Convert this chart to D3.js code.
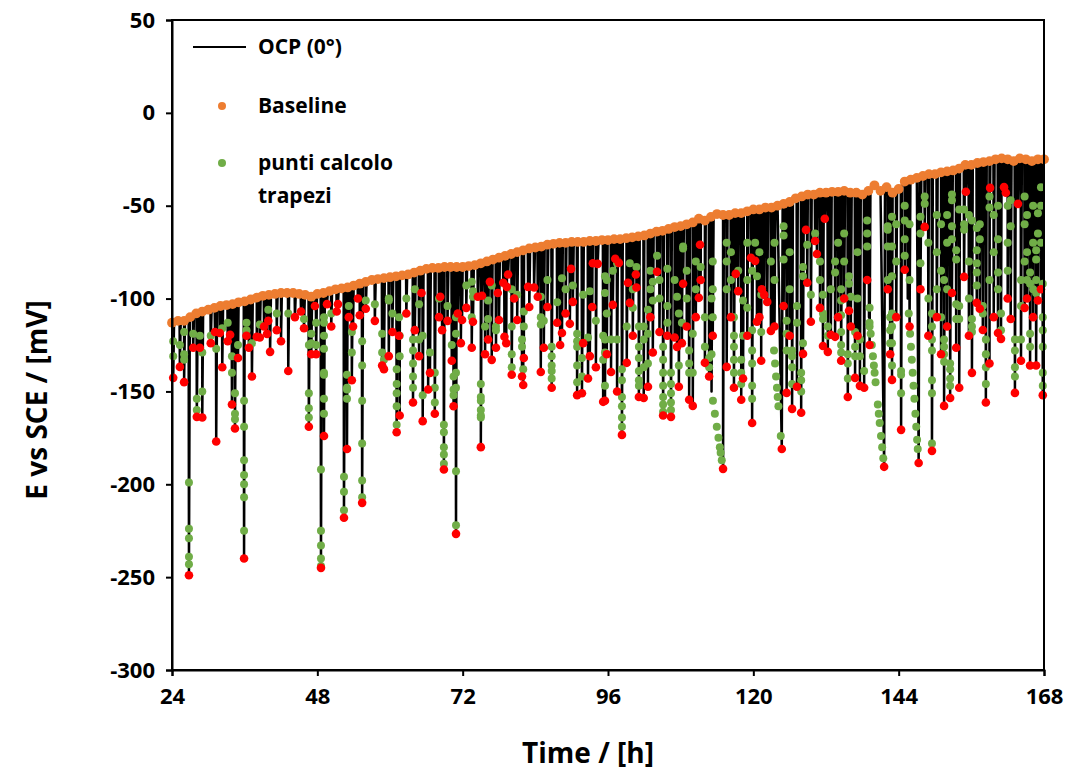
<!DOCTYPE html>
<html><head><meta charset="utf-8">
<script src="https://cdn.jsdelivr.net/npm/d3@7"></script>
<style>
html,body{margin:0;padding:0;background:#fff;}
text{font-family:"Open Sans",sans-serif;font-weight:bold;fill:#000;}
</style></head>
<body><svg id="c" width="1072" height="776"></svg>
<script>
// x tick values (hours) and y tick values (mV)
const xTicks = [24, 48, 72, 96, 120, 144, 168];
const yTicks = [50, 0, -50, -100, -150, -200, -250, -300];

// Baseline (orange), hourly from 24 h to 168 h, mV
const baseTime = d3.range(24, 169, 1);
const baseValue = [
 -113,-112,-112,-110,-108,-107,-106,-105,-104,-103.5,-103,-102,-101.5,-100.5,-99.5,-98.5,
 -98,-97.5,-97,-97,-97,-97.5,-98,-99,-97.5,-97,-96,-95,-94.5,-94,-93,-92,
 -91,-90,-89.5,-89,-88.5,-88,-87.5,-87,-86,-85,-84,-83.5,-83.5,-83,-83,-83,
 -83,-82.5,-82,-81,-80,-79,-78,-77,-76,-75,-74,-73,-72.5,-72,-71,-70.5,
 -70,-70,-69.5,-69.5,-69.5,-69,-69,-68.5,-68.5,-68,-68,-67.5,-67,-66.5,-66,-65,
 -64,-63.5,-62.5,-61.5,-61,-60,-59,-57,-58,-56,-54.5,-55,-55,-54,-54,-53,
 -52,-52,-51,-51,-50,-49,-48,-46,-45,-44,-44,-43,-43,-42.5,-42.5,-42,
 -43,-43,-44,-42,-39,-42,-40,-43,-41,-37,-36,-35,-34,-33,-33,-32,
 -31.5,-31,-30,-28,-28,-27,-26.5,-26,-25,-24.5,-25,-26,-24.5,-25,-26,-25,-25
];

// OCP transients: [time h, minimum mV (red), [green points mV], slow-descent hours, knee mV]
const spikesDay1 = [
 [24.2,-142.7,[-123,-131]],[25.3,-136.8,[-125]],[26.0,-145,[-118,-130,-133]],
 [26.8,-249,[-199,-224,-229,-239,-243]],[27.5,-126.5,[-119]],[28.1,-163.7,[-154,-160]],
 [28.6,-126.5,[-120]],[29.0,-164,[-129,-150]],[30.4,-124,[-120]],[31.1,-118,[]],
 [31.3,-177,[-127]],[31.9,-118.5,[]],[32.3,-137,[-116]],[33.2,-123,[-113]],
 [33.6,-119.5,[]],[33.9,-157,[-131,-140]],[34.4,-170,[-151,-162,-165]],[34.9,-132,[-125]],
 [35.9,-240,[-155,-169,-187,-195,-200,-207,-225]],[36.3,-120,[-113,-117]],[36.7,-126.5,[]],
 [37.2,-142,[-124]],[38.0,-120.6,[]],[38.5,-121,[-114]],[39.2,-115,[]],[39.7,-119,[]],
 [39.9,-112,[-106]],[40.2,-128.7,[]],[41.3,-117,[-108]],[42.0,-123,[]],[43.2,-139,[-108]],
 [44.3,-110,[]],[45.3,-107,[]],[45.8,-116,[-111]],[46.6,-169,[-125,-151,-159,-164]],
 [47.0,-130,[-119,-124]],[47.6,-104,[]],[47.8,-130,[-113,-125]]
];
const spikesDay2 = [
 [48.6,-245,[-192,-225,-233,-240,-244]],[49.1,-174,[-110,-113,-120,-127,-140,-141,-154,-162]],
 [49.6,-103,[]],[50.3,-115,[-108]],[51.2,-107,[]],[51.4,-103,[]],[52.4,-218,[-196,-204,-214]],
 [52.9,-181,[-141,-148,-149,-154]],[53.2,-110,[-104]],[53.7,-144,[-118,-129]],[53.9,-115,[]],
 [54.7,-100,[]],[55.0,-109,[]],[55.4,-210,[-123,-136,-155,-178,-198,-207]],[56.0,-105.5,[-101]],
 [57.5,-112,[-103]],[58.7,-136,[-119,-129]],[59.0,-138,[-133]],[59.8,-131,[-100,-101]],
 [60.4,-118,[-108]],[61.1,-172,[-138,-146,-151,-158,-168]],[61.5,-120,[-110]],
 [61.6,-163,[-120,-131]],[62.7,-108,[-100]],[63.8,-156,[-122,-128,-135,-142,-148]],
 [64.1,-117,[-95]],[64.8,-131,[-103,-122]],[65.2,-97,[]],[65.4,-166,[-120,-152]],
 [66.3,-149,[]],[66.6,-140,[-129]],[67.4,-162,[-140,-148,-156]],[68.1,-110,[-100]],
 [68.3,-99,[]],[68.6,-117,[]],[68.9,-192,[-168,-172,-180,-184,-189]],[69.5,-112,[-104]],
 [70.2,-133.5,[-125]],[70.5,-158,[-142,-149,-152]],[70.9,-226.7,[-110,-119,-140,-148,-193,-222]],
 [71.2,-108,[]],[71.7,-124,[]],[71.9,-111.5,[]]
];
const spikesDay3 = [
 [72.6,-105,[-93]],[73.5,-126.5,[-91,-110]],[73.7,-112.5,[-96,-99]],[74.5,-99,[]],
 [75.0,-180,[-146,-153,-155,-160,-163,-164]],[75.2,-98.5,[]],[75.7,-130,[-115]],
 [76.2,-122,[-101,-111]],[76.5,-91,[]],[76.8,-133,[-93]],[77.5,-126.5,[-115,-117]],
 [77.8,-97,[]],[78.0,-111.5,[]],[78.7,-91.5,[]],[78.9,-120.6,[]],[79.2,-124,[]],
 [79.3,-93.7,[]],[79.5,-87,[]],[80.1,-141,[-95,-115,-130,-137]],[80.5,-100,[]],
 [81.0,-111.5,[-98]],[81.8,-142,[-122,-126]],[82.0,-146.5,[-138]],[82.1,-132,[-107,-115]],
 [82.8,-93.7,[]],[83.0,-104.5,[]],[83.8,-94,[]],[84.4,-99,[]],[84.9,-139.5,[-99,-110,-114]],
 [85.4,-126.5,[-112]],[86.0,-104.5,[-90]],[86.7,-148,[-126,-131,-136,-139,-143]],
 [87.6,-113,[-102]],[88.1,-125,[]],[88.4,-118.5,[-89]],[89.0,-108,[-95]],[89.7,-113.6,[]],
 [89.9,-84,[]],[90.2,-101.8,[-93]],[90.9,-152,[-119,-123,-126,-136,-145]],
 [91.7,-151,[-132,-142]],[91.9,-124,[-98]],[92.7,-143,[-121]],[93.0,-131,[-96]],
 [93.4,-104.5,[]],[93.5,-81,[]],[94.0,-137,[-112]],[94.3,-81.3,[]],[95.2,-155.6,[-120,-133]],
 [95.5,-155,[-88,-97,-122,-129,-147]],[95.8,-130,[-90,-108]]
];
const spikesDay4 = [
 [96.5,-139.5,[-122]],[96.8,-103.4,[-85]],[97.2,-78.6,[]],[97.5,-150,[-81,-122]],
 [97.8,-80.8,[]],[98.3,-173.4,[-138,-144,-153,-158,-164,-169]],[99.1,-134.6,[-115]],
 [99.3,-91.5,[]],[99.6,-102.3,[-81]],[100.1,-120,[-95,-105]],[100.6,-87,[]],[100.7,-94,[-83]],
 [101.1,-153,[-115,-126,-132,-139,-144,-147]],[101.9,-153.5,[-115,-122,-137]],
 [102.6,-147.5,[-106,-119,-135]],[103.0,-110,[-85,-95]],[103.4,-129,[-91,-101]],
 [104.1,-85.6,[-77]],[104.5,-118,[-90,-100]],[105.1,-163,[-126,-133,-140,-147,-153,-157,-161]],
 [105.8,-120,[-84,-104,-113]],[106.4,-163.7,[-140,-146,-151,-156,-160]],[107.0,-121,[-90]],
 [107.4,-126,[-99]],[107.7,-147.5,[-108,-136]],[108.2,-124,[-113]],[108.4,-92,[-72,-73]],
 [109.0,-115,[-85,-100]],[109.4,-154.5,[-128,-135,-140]],[110.0,-157.8,[-119,-140]],
 [110.5,-110,[-80,-95]],[111.0,-99.6,[]],[111.2,-71,[]],[111.3,-90,[-83]],
 [112.0,-134.6,[-110,-126]],[112.7,-142,[-132,-137]],[113.3,-120,[-80,-95,-110]],
 [115.0,-191.7,[-100,-130,-155,-162,-169,-175,-180,-183,-187],1.9,-150],
 [115.6,-136.8,[-70,-80,-95]],[116.3,-110,[-75,-90]],[116.8,-148,[-110,-120,-126,-133,-140]],
 [117.1,-86.7,[]],[117.5,-96,[-85]],[118.0,-154.5,[-133,-140,-146]],[118.3,-143,[-101,-120]],
 [119.0,-120,[-70,-90,-105]],[119.6,-78,[]],[119.8,-167,[-85,-117,-128,-135,-147,-154]]
];
const spikesDay5 = [
 [120.3,-79.7,[-70]],[120.6,-112.5,[-88]],[121.0,-110,[-75]],[121.3,-133.5,[-98,-118]],
 [121.4,-95,[]],[121.8,-98,[]],[122.3,-101.8,[]],[122.9,-117.4,[-80]],[123.5,-115,[-70,-90]],
 [124.7,-181,[-128,-135,-142,-148,-153,-158,-174],1.6,-115],[125.0,-104,[-61,-66,-79]],
 [125.5,-150.8,[-112,-119,-128]],[126.0,-120,[-75,-95]],[126.4,-159.4,[-128,-131,-137,-146]],
 [127.2,-147.5,[-104,-113]],[127.9,-161.5,[-140,-144,-150]],[128.2,-129.8,[-83,-88,-124]],
 [128.7,-63,[]],[128.9,-91.5,[-71]],[129.5,-112.5,[-98]],[130.2,-69,[-65]],[130.5,-76,[]],
 [131.0,-105,[-80,-90]],[131.5,-125.5,[-98,-108,-111]],[131.8,-57,[]],[132.3,-128.7,[-115,-120]],
 [132.8,-119.5,[-95]],[133.5,-120.6,[-80,-86]],[134.0,-110,[-70]],
 [134.5,-133.5,[-95,-101,-109,-118,-125,-129]],[135.0,-100,[-65,-80]],[135.6,-153,[-130,-135,-143]],
 [135.8,-106.6,[-88,-92]],[136.1,-115,[-99]],[136.8,-142.7,[-118,-126,-131]],
 [137.2,-120,[-75,-100]],[137.6,-147,[-122,-131]],[138.3,-148,[-139]],[138.8,-90,[-58,-65,-72]],
 [139.2,-125,[-105,-115]],
 [141.6,-190.6,[-113,-119,-125,-131,-136,-140,-145,-157,-162,-167,-174,-180,-186],2.5,-110],
 [142.2,-95,[-61,-63,-72,-90]],[142.6,-130,[-110,-117,-124]],
 [142.9,-143.8,[-56,-72,-88,-108,-115,-124,-136]],[143.6,-110,[-60,-80]]
];
const spikesDay6 = [
 [144.4,-170.7,[-139,-141,-151]],[145.0,-84.5,[-50,-58,-68,-77]],[145.8,-115,[-60,-90]],
 [147.3,-188.5,[-108,-119,-126,-133,-140,-147,-154,-162,-169,-176,-181],1.8,-100],
 [147.6,-95,[-56,-65,-81]],[148.3,-61.4,[-45,-49]],[148.9,-120,[-70,-100]],
 [149.5,-182,[-108,-115,-122,-128,-144,-151,-178]],[150.3,-110,[-55,-75,-95]],
 [151.0,-130,[-60,-85,-110]],[151.5,-157.8,[-90,-122,-126,-130,-134]],[152.0,-115,[-55,-70,-95]],
 [152.5,-153.5,[-135,-138,-143,-147]],[152.8,-97,[-44,-47,-61,-68]],[153.5,-126.5,[-74,-79,-103,-111]],
 [154.0,-148,[-52,-104,-111]],[154.8,-88.3,[-52,-60,-63]],[155.1,-42.5,[]],
 [155.6,-120,[-55,-80,-100]],[156.1,-140,[-58,-111,-115,-118]],[156.9,-102.3,[-62,-74,-81,-86,-93]],
 [157.4,-105.5,[-60,-68]],[157.9,-116.9,[-104,-108]],[158.4,-156,[-122,-130,-137,-146]],
 [159.0,-135,[-45,-51,-90]],[159.1,-40.4,[]],[159.7,-110,[-55,-75]],
 [160.4,-118.5,[-50,-68,-86,-95]],[160.9,-121.7,[-108,-117]],[161.4,-40,[]],[161.7,-43,[]],
 [162.0,-100,[-50,-70,-85]],[162.5,-111,[-47,-61]],[163.2,-150.8,[-122,-128,-137,-142]],
 [163.7,-49,[]],[164.2,-133.5,[-90,-104,-122]],[164.8,-105,[-45,-60,-80]],
 [165.2,-100,[-55,-75,-90]],[165.7,-136,[-86,-92,-119,-126]],[166.2,-110,[-50,-70,-95]],
 [166.7,-136,[-74,-79,-90,-97]],[167.0,-101,[-54,-65]],[167.5,-95,[-40,-50,-70]],
 [167.8,-152,[-92,-110,-117,-126,-140,-147]]
];

const legendLabels = ["OCP (0°)", "Baseline", "punti calcolo", "trapezi"];
const xTitle = "Time / [h]";
const yTitle = "E vs SCE / [mV]";

const COL_ORANGE = "#ED7D31", COL_GREEN = "#70AD47", COL_RED = "#FF0000";

const svg = d3.select("#c");
const L = 172, R = 1044, T = 20, B = 670;
const x = d3.scaleLinear().domain([24, 168]).range([L, R]);
const y = d3.scaleLinear().domain([-300, 50]).range([B, T]);
const baseAt = d3.scaleLinear().domain(baseTime).range(baseValue).clamp(true);

const spikes = [].concat(spikesDay1, spikesDay2, spikesDay3, spikesDay4, spikesDay5, spikesDay6)
  .map(s => ({t: s[0], min: s[1], greens: s[2], dur: s[3] || 0, knee: s[4]}))
  .sort((a, b) => a.t - b.t);

// build OCP path: baseline between transients, sharp drops to the minimum
let pts = baseTime.map((t, i) => ({t, v: baseValue[i], k: 0}));
spikes.forEach(s => {
  const t0 = s.t - s.dur - 0.05;
  pts.push({t: t0, v: baseAt(t0), k: 1});
  if (s.dur) pts.push({t: s.t - s.dur, v: s.knee, k: 2});
  pts.push({t: s.t, v: s.min, k: 3});
  pts.push({t: s.t + 0.14, v: baseAt(s.t + 0.14), k: 4});
});
pts.sort((a, b) => a.t - b.t || a.k - b.k);

const plot = svg.append("g");
plot.append("path")
  .attr("d", d3.line().x(d => x(d.t)).y(d => y(d.v))(pts))
  .attr("fill", "none").attr("stroke", "#000").attr("stroke-width", 2.5)
  .attr("stroke-linejoin", "round");

// baseline points
plot.append("g").selectAll("circle").data(baseTime.map((t, i) => [t, baseValue[i]]))
  .join("circle").attr("cx", d => x(d[0])).attr("cy", d => y(d[1])).attr("r", 4.9)
  .attr("fill", COL_ORANGE);

// green points
const greens = [];
spikes.forEach(s => s.greens.forEach(v => {
  let t = s.t;
  if (s.dur) t = v >= s.knee ? s.t - s.dur : s.t - s.dur * (v - s.min) / (s.knee - s.min);
  greens.push([t, v]);
}));
plot.append("g").selectAll("circle").data(greens).join("circle")
  .attr("cx", d => x(d[0])).attr("cy", d => y(d[1])).attr("r", 4).attr("fill", COL_GREEN);

// red minima
plot.append("g").selectAll("circle").data(spikes).join("circle")
  .attr("cx", d => x(d.t)).attr("cy", d => y(d.min)).attr("r", 4.3).attr("fill", COL_RED);

// frame
svg.append("rect").attr("x", L).attr("y", T).attr("width", R - L).attr("height", B - T)
  .attr("fill", "none").attr("stroke", "#000").attr("stroke-width", 2);

// axes
const fmt = d => String(d);
const xAxis = svg.append("g").attr("transform", `translate(0,${B})`)
  .call(d3.axisBottom(x).tickValues(xTicks).tickSize(6).tickPadding(12).tickFormat(fmt));
const yAxis = svg.append("g").attr("transform", `translate(${L},0)`)
  .call(d3.axisLeft(y).tickValues(yTicks).tickSize(6).tickPadding(11).tickFormat(fmt));
[xAxis, yAxis].forEach(a => {
  a.select(".domain").attr("stroke-width", 2);
  a.selectAll(".tick line").attr("stroke-width", 2);
  a.selectAll("text").attr("font-family", "Open Sans").attr("font-weight", "bold")
   .attr("font-size", 22).attr("fill", "#000");
});
xAxis.selectAll("text").attr("dy", "0.71em");

svg.append("text").attr("x", 588).attr("y", 763).attr("text-anchor", "middle")
  .attr("font-size", 28).text(xTitle);
svg.append("text").attr("transform", `translate(47,400) rotate(-90)`)
  .attr("text-anchor", "middle").attr("font-size", 28).text(yTitle);

// legend
const lg = svg.append("g");
lg.append("line").attr("x1", 193).attr("x2", 246).attr("y1", 47).attr("y2", 47)
  .attr("stroke", "#000").attr("stroke-width", 1.8);
lg.append("circle").attr("cx", 222).attr("cy", 106).attr("r", 4).attr("fill", COL_ORANGE);
lg.append("circle").attr("cx", 222).attr("cy", 163).attr("r", 4).attr("fill", COL_GREEN);
const ly = [47, 106, 163, 196];
legendLabels.forEach((t, i) => lg.append("text").attr("x", 258).attr("y", ly[i])
  .attr("dy", "0.35em").attr("font-size", 21).text(t));
</script></body></html>
